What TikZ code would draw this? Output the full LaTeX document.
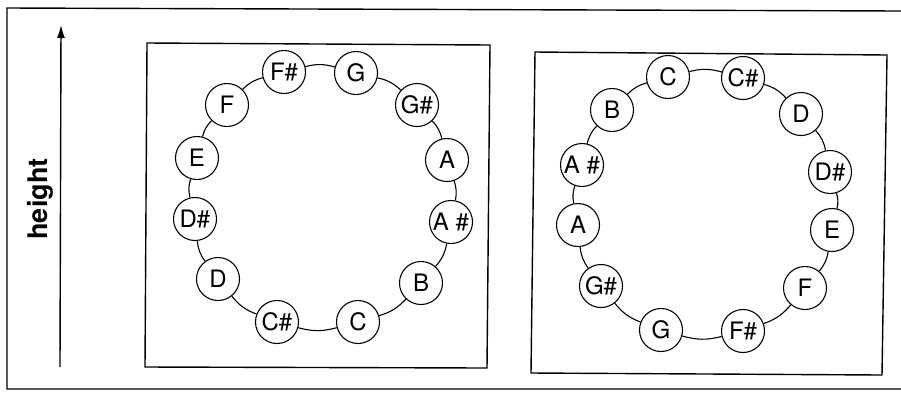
\documentclass[tikz,border=0pt]{standalone}
\usepackage{fontspec}
\setmainfont{TeX Gyre Heros}
\usetikzlibrary{arrows.meta}
\begin{document}
\begin{tikzpicture}[x=1pt,y=-1pt,
  note/.style={circle,draw,line width=1.1pt,fill=white,minimum size=43pt,inner sep=0pt,
    font=\fontsize{24}{24}\selectfont},
  link/.style={line width=1.1pt,bend left=15},
  frame/.style={line width=1.4pt},
  axis/.style={line width=1.4pt,-{Latex[length=13pt,width=8pt]}}]
\useasboundingbox (0,0) rectangle (901,392);
% outer frame (open on the right)
\draw[frame] (901,11) -- (7,8) -- (7,389) -- (901,389);
% height arrow
\coordinate (abot) at (60,367);
\coordinate (atop) at (61,25);
\draw[axis] (abot) -- (atop);
\node[rotate=90,font=\bfseries\fontsize{27}{27}\selectfont] (hl) at (40,199) {height};
% boxes
\draw[frame] (147,43) -- (490,45) -- (487,368) -- (145,367) -- cycle;
\draw[frame] (535,52) -- (887,55) -- (882,375) -- (531,373) -- cycle;
% left ring
\node[note] (lFs) at (284,72) {F\#};
\node[note] (lG)  at (356,73) {G};
\node[note] (lGs) at (417,105) {G\#};
\node[note] (lA)  at (447,160) {A};
\node[note] (lAs) at (451,222) {A \#};
\node[note] (lB)  at (421,283) {B};
\node[note] (lC)  at (358,322) {C};
\node[note] (lCs) at (277,322) {C\#};
\node[note] (lD)  at (218,279) {D};
\node[note] (lDs) at (195,219) {D\#};
\node[note] (lE)  at (197,158) {E};
\node[note] (lF)  at (227,105) {F};
\foreach \a/\b in {lFs/lG,lG/lGs,lGs/lA,lA/lAs,lAs/lB,lB/lC,lC/lCs,lCs/lD,lD/lDs,lDs/lE,lE/lF,lF/lFs}
  \draw[link] (\a) to (\b);
% right ring
\node[note] (rC)  at (668,77) {C};
\node[note] (rCs) at (743,78) {C\#};
\node[note] (rD)  at (801,114) {D};
\node[note] (rDs) at (830,172) {D\#};
\node[note] (rE)  at (832,230) {E};
\node[note] (rF)  at (805,288) {F};
\node[note] (rFs) at (743,331) {F\#};
\node[note] (rG)  at (661,330) {G};
\node[note] (rGs) at (601,286) {G\#};
\node[note] (rA)  at (578,225) {A};
\node[note] (rAs) at (582,165) {A \#};
\node[note] (rB)  at (612,110) {B};
\foreach \a/\b in {rC/rCs,rCs/rD,rD/rDs,rDs/rE,rE/rF,rF/rFs,rFs/rG,rG/rGs,rGs/rA,rA/rAs,rAs/rB,rB/rC}
  \draw[link] (\a) to (\b);
\end{tikzpicture}
\end{document}
